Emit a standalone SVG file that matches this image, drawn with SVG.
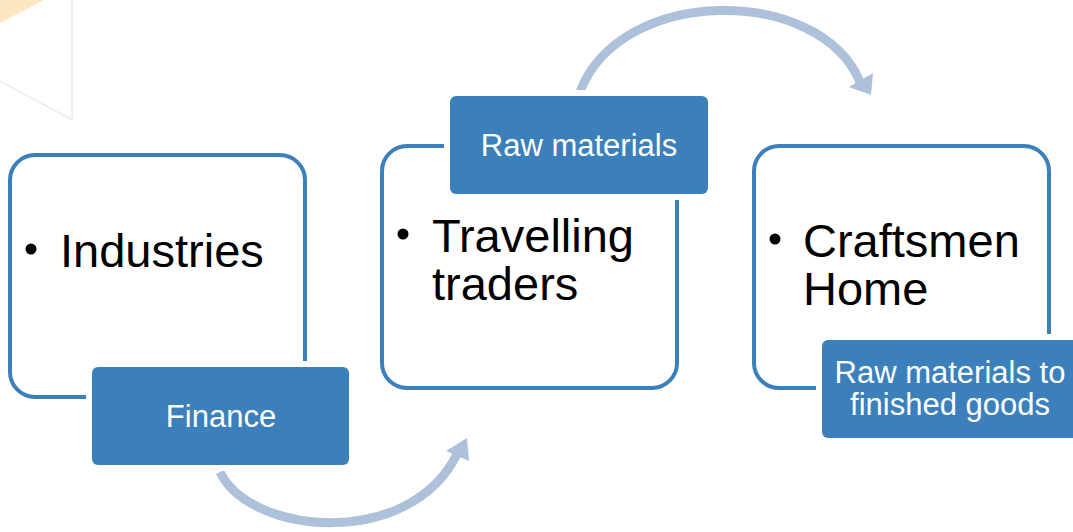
<svg xmlns="http://www.w3.org/2000/svg" width="1073" height="532" viewBox="0 0 1073 532">
<style>
.box{fill:#fff;stroke:#3b7fbb;stroke-width:4}
.lblbg{fill:#fff}
.lbl{fill:#3b80ba}
.main{font-family:"Liberation Sans",Arial,sans-serif;font-size:47px;fill:#000}
.lt{font-family:"Liberation Sans",Arial,sans-serif;font-size:31px;fill:#fff;text-anchor:middle}
.arc{fill:none;stroke:#adc1da;stroke-width:9}
.head{fill:#adc1da}
.dot{fill:#000}
</style>
<rect width="1073" height="532" fill="#fff"/>
<g id="background">
<polygon points="0,0 44,0 0,23" fill="#fde7c1"/>
<polyline points="72,0 72,120 0,81" fill="none" stroke="#ececec" stroke-width="1.5"/>
</g>
<g id="connectors">
<path class="arc" d="M 220 472 C 250 535, 410 550, 457 454"/>
<polygon class="head" points="446,451 469,461 467,438"/>
<path class="arc" d="M 580 92 C 620 -15, 820 -15, 860 82"/>
<polygon class="head" points="849,87 873,73 871,95"/>
</g>
<g id="node-industries">
<rect class="box" x="10" y="155" width="295" height="242" rx="25"/>
<text class="main" x="60" y="267">Industries</text>
<circle class="dot" cx="31" cy="249" r="5.5"/>
</g>
<g id="node-finance">
<rect class="lblbg" x="86" y="361" width="269" height="110" rx="8"/>
<rect class="lbl" x="92" y="367" width="257" height="98" rx="6"/>
<text class="lt" x="221" y="427">Finance</text>
</g>
<g id="node-traders">
<rect class="box" x="382" y="146" width="295" height="242" rx="25"/>
<text class="main" x="432" y="252">Travelling</text>
<text class="main" x="432" y="300">traders</text>
<circle class="dot" cx="403" cy="234" r="5.5"/>
</g>
<g id="node-raw">
<rect class="lblbg" x="444" y="90" width="270" height="110" rx="8"/>
<rect class="lbl" x="450" y="96" width="258" height="98" rx="6"/>
<text class="lt" x="579" y="156">Raw materials</text>
</g>
<g id="node-craftsmen">
<rect class="box" x="754" y="146" width="295" height="242" rx="25"/>
<text class="main" x="803" y="257">Craftsmen</text>
<text class="main" x="803" y="305">Home</text>
<circle class="dot" cx="775" cy="239" r="5.5"/>
</g>
<g id="node-finished">
<rect class="lblbg" x="816" y="334" width="270" height="110" rx="8"/>
<rect class="lbl" x="822" y="340" width="258" height="98" rx="6"/>
<text class="lt" x="950" y="383">Raw materials to</text>
<text class="lt" x="950" y="415">finished goods</text>
</g>
</svg>
